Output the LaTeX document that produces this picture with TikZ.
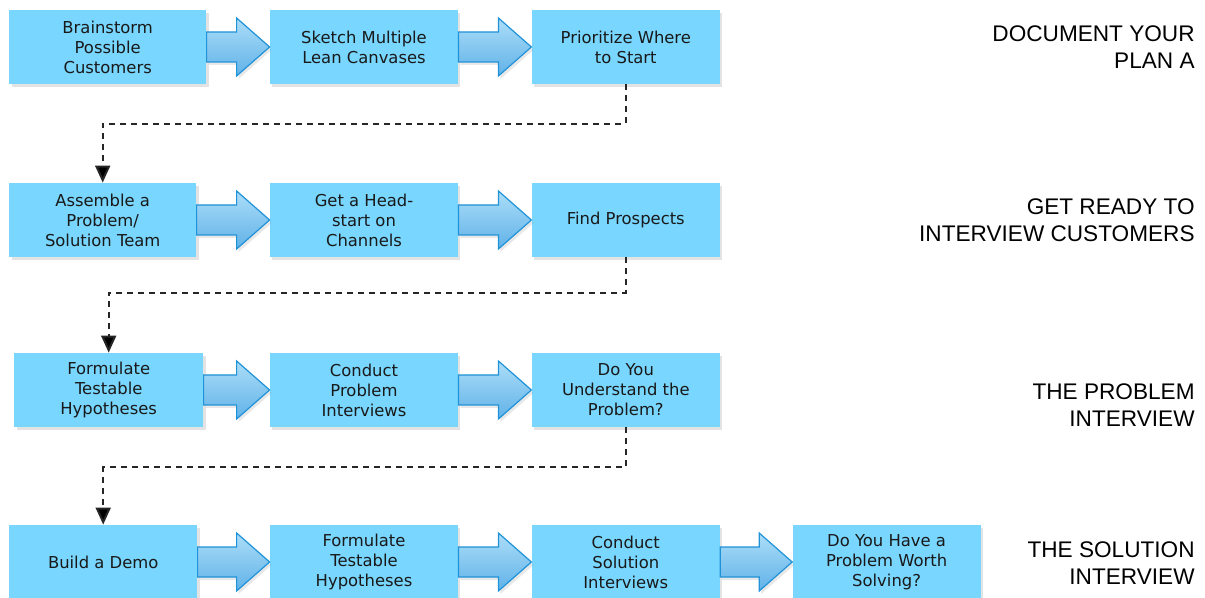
\documentclass[tikz,border=0pt]{standalone}
\usepackage{fontspec}
\setmainfont{DejaVu Sans}
\newfontfamily\stagefont{Liberation Sans}
\usetikzlibrary{arrows.meta, positioning, calc, shadows}
\definecolor{stepBlue}{RGB}{120,214,255}
\definecolor{arrowTop}{RGB}{172,221,248}
\definecolor{arrowBot}{RGB}{96,178,232}
\definecolor{arrowEdge}{RGB}{32,146,216}
\definecolor{textDark}{RGB}{25,25,25}

% block arrow from the east side of one box to the west side of the next
\newcommand{\blockarrow}[2]{%
  \draw[barrow] ($(#1.east)+(0,7.5pt)$) -- ($(#2.west)+(-16.5pt,7.5pt)$)
    -- ($(#2.west)+(-16.5pt,14.5pt)$) -- (#2.west)
    -- ($(#2.west)+(-16.5pt,-14.5pt)$) -- ($(#2.west)+(-16.5pt,-7.5pt)$)
    -- ($(#1.east)+(0,-7.5pt)$) -- cycle;}

\begin{document}
\begin{tikzpicture}[x=0.5pt, y=-0.5pt,
stepbox/.style={rectangle, fill=stepBlue, draw=none, text=textDark,
minimum width=94pt, minimum height=37pt, inner sep=0pt, align=center,
font=\fontsize{8.2}{10}\selectfont,
drop shadow={opacity=0.22, shadow xshift=1.2pt, shadow yshift=-1.5pt}},
barrow/.style={draw=arrowEdge, line width=0.6pt, line join=miter,
top color=arrowTop, bottom color=arrowBot,
drop shadow={opacity=0.18, shadow xshift=1pt, shadow yshift=-1.5pt}},
dashlink/.style={draw=black!85, line width=1pt, dash pattern=on 3pt off 2.5pt,
-{Triangle[width=7.5pt,length=8.5pt,fill=black]}},
stage/.style={anchor=east, align=right, text=black, inner sep=0pt,
font=\stagefont\fontsize{11.3}{13.4}\selectfont}]

\useasboundingbox (0,0) rectangle (1205,598);

% row 1
\node[stepbox] (b12) at (364,47) {Sketch Multiple\\Lean Canvases};
\node[stepbox, minimum width=98.5pt, left=31.5pt of b12] (b11) {Brainstorm\\Possible\\Customers};
\node[stepbox, right=36.5pt of b12] (b13) {Prioritize Where\\to Start};

% row 2
\node[stepbox] (b22) at (364,220) {Get a Head-\\start on\\Channels};
\node[stepbox, minimum width=93.5pt, left=36.5pt of b22] (b21) {Assemble a\\Problem/\\Solution Team};
\node[stepbox, right=36.5pt of b22] (b23) {Find Prospects};

% row 3
\node[stepbox] (b32) at (364,390) {Conduct\\Problem\\Interviews};
\node[stepbox, minimum width=94.5pt, left=33pt of b32] (b31) {Formulate\\Testable\\Hypotheses};
\node[stepbox, right=36.5pt of b32] (b33) {Do You\\Understand the\\Problem?};

% row 4
\node[stepbox] (b42) at (364,562) {Formulate\\Testable\\Hypotheses};
\node[stepbox, left=36pt of b42] (b41) {Build a Demo};
\node[stepbox, right=36.5pt of b42] (b43) {Conduct\\Solution\\Interviews};
\node[stepbox, right=36pt of b43] (b44) {Do You Have a\\Problem Worth\\Solving?};

% stage labels
\node[stage] (s1) at (1195,47) {DOCUMENT YOUR\\PLAN A};
\node[stage] (s2) at (1195,220) {GET READY TO\\INTERVIEW CUSTOMERS};
\node[stage] (s3) at (1195,405) {THE PROBLEM\\INTERVIEW};
\node[stage] (s4) at (1195,563) {THE SOLUTION\\INTERVIEW};

% arrows inside rows
\blockarrow{b11}{b12}
\blockarrow{b12}{b13}
\blockarrow{b21}{b22}
\blockarrow{b22}{b23}
\blockarrow{b31}{b32}
\blockarrow{b32}{b33}
\blockarrow{b41}{b42}
\blockarrow{b42}{b43}
\blockarrow{b43}{b44}

% dashed links between rows
\coordinate (m1) at ($(b13.south)!0.4!(b21.north)$);
\coordinate (m2) at ($(b23.south)!0.37!(b31.north)$);
\coordinate (m3) at ($(b33.south)!0.41!(b41.north)$);
\draw[dashlink] (b13.south) |- (m1) -| (b21.north);
\draw[dashlink] (b23.south) |- (m2) -| (b31.north);
\draw[dashlink] (b33.south) |- (m3) -| (b41.north);
\end{tikzpicture}
\end{document}
